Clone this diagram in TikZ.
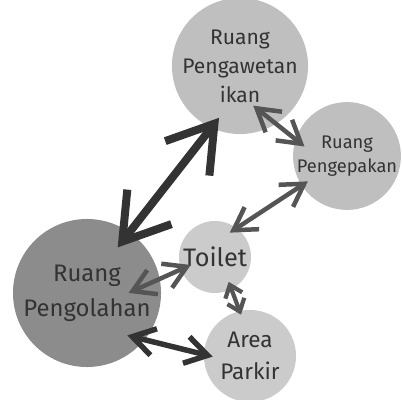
\documentclass[tikz,border=0pt]{standalone}
\usepackage{fontspec}
\setmainfont{Fira Sans}
\usepackage{tikz}
\usetikzlibrary{arrows.meta}

\definecolor{inkgray}{HTML}{333333}
\definecolor{arrowgray}{HTML}{555555}
\definecolor{roomgray}{HTML}{BFBFBF}
\definecolor{lightroom}{HTML}{CBCBCB}
\definecolor{mainroom}{HTML}{8C8C8C}

\begin{document}
\begin{tikzpicture}[
    x=0.025cm, y=-0.025cm,
    % node styles
    room/.style={circle, fill=roomgray, text=inkgray, align=center, inner sep=0pt},
    % connector styles
    bigarrow/.style={<->, >={Straight Barb[length=1.1cm, width=1.4cm]}, line width=5.7pt, draw=inkgray},
    darkarrow/.style={<->, >={Straight Barb[length=0.55cm, width=0.68cm]}, line width=3.9pt, draw=inkgray},
    midarrow/.style={<->, >={Straight Barb[length=0.55cm, width=0.66cm]}, line width=3.2pt, draw=arrowgray},
    smallarrow/.style={<->, >={Straight Barb[length=0.28cm, width=0.45cm]}, line width=3pt, draw=arrowgray}
]
\useasboundingbox (0,0) rectangle (402,400);

% 1. Rooms
\node[room, minimum size=3cm, font=\fontsize{15}{20.6}\selectfont] (pengawetan) at (240,66) {Ruang\\Pengawetan\\ikan};
\node[room, minimum size=2.65cm, font=\fontsize{13}{17}\selectfont] (pengepakan) at (347,156) {Ruang\\Pengepakan};
\node[room, fill=lightroom, minimum size=1.8cm, font=\fontsize{18}{22}\selectfont] (toilet) at (215,257) {Toilet};
\node[room, fill=mainroom, minimum size=3.7cm, font=\fontsize{17}{24.9}\selectfont] (pengolahan) at (87,293) {Ruang\\Pengolahan};
\node[room, fill=lightroom, minimum size=2.3cm, font=\fontsize{16}{22.7}\selectfont] (parkir) at (250,356) {Area\\Parkir};

% 2. Connections
\draw[bigarrow, shorten <=-0.485cm, shorten >=-0.32cm] (pengolahan.55) -- (pengawetan.245);
\draw[midarrow, shorten <=-0.735cm, shorten >=-0.29cm] (pengawetan.302) -- (pengepakan.162);
\draw[midarrow, shorten <=-0.19cm, shorten >=-0.21cm] (pengepakan.213) -- (toilet.53);
\draw[midarrow, shorten <=-0.86cm, shorten >=-0.27cm] (pengolahan.11) -- (toilet.200);
\draw[smallarrow, shorten <=-0.2cm, shorten >=-0.1cm] (toilet.297) -- (parkir.103);
\draw[darkarrow, shorten <=-0.45cm, shorten >=-0.23cm] (pengolahan.321) -- (parkir.178);

\end{tikzpicture}
\end{document}
